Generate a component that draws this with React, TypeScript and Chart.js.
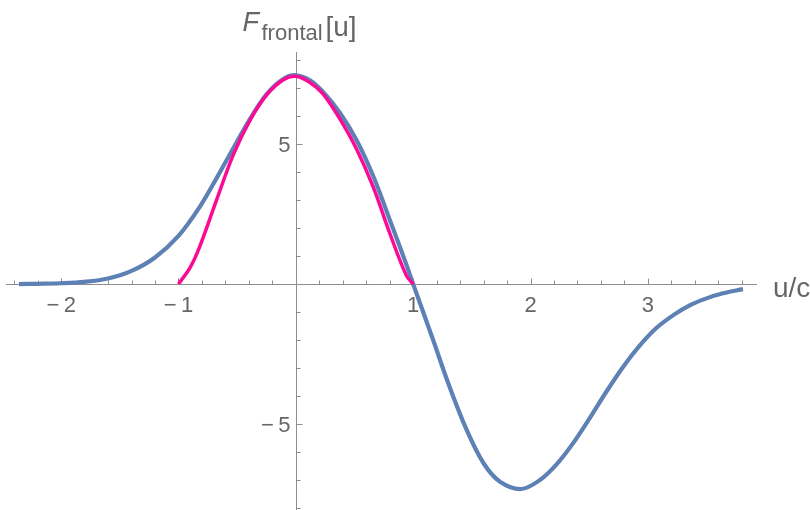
import React, { useEffect, useRef } from "react";
import { Chart, registerables } from "chart.js";

Chart.register(...registerables);

// Blue curve (full F_frontal)
const blueU = [
  -2.36, -2.2, -2.0, -1.8, -1.6, -1.4, -1.2, -1.0, -0.82, -0.68, -0.54, -0.39, -0.25, -0.11, 0,
  0.12, 0.23, 0.375, 0.52, 0.66, 0.8, 0.94, 1.0, 1.17, 1.31, 1.455, 1.6, 1.74, 1.92, 2.08, 2.22,
  2.36, 2.51, 2.65, 2.79, 2.93, 3.07, 3.22, 3.36, 3.5, 3.64, 3.81,
];
const blueF = [
  0.0, 0.01, 0.03, 0.08, 0.2, 0.47, 0.95, 1.72, 2.75, 3.75, 4.8, 5.9, 6.78, 7.32, 7.46,
  7.28, 6.87, 6.12, 5.12, 3.85, 2.3, 0.72, 0.0, -2.0, -3.67, -5.2, -6.4, -7.06, -7.32, -7.0, -6.45,
  -5.7, -4.75, -3.82, -2.95, -2.2, -1.58, -1.1, -0.75, -0.51, -0.33, -0.18,
];

// Pink curve (approximation on [-1, 1])
const pinkU = [-1.0, -0.9, -0.82, -0.676, -0.535, -0.39, -0.25, -0.11, 0, 0.12, 0.23, 0.375, 0.52, 0.66, 0.8, 0.94, 1.0];
const pinkF = [0, 0.6, 1.33, 3.0, 4.6, 5.86, 6.75, 7.29, 7.42, 7.2, 6.8, 5.9, 4.8, 3.46, 1.82, 0.32, 0];

// Axis ranges and ticks
const xMin = -2.47;
const xMax = 3.93;
const yMin = -8.07;
const yMax = 8.29;
const xMajorTicks = [-2, -1, 1, 2, 3];
const xTickLabels = ["\u2212\u20092", "\u2212\u20091", "1", "2", "3"];
const xMinorTicks = [
  -2.4, -2.2, -1.8, -1.6, -1.4, -1.2, -0.8, -0.6, -0.4, -0.2, 0.2, 0.4, 0.6, 0.8, 1.2, 1.4, 1.6, 1.8,
  2.2, 2.4, 2.6, 2.8, 3.2, 3.4, 3.6, 3.8,
];
const yMajorTicks = [-5, 5];
const yTickLabels = ["\u2212\u20095", "5"];
const yMinorTicks = [-8, -7, -6, -4, -3, -2, -1, 1, 2, 3, 4, 6, 7, 8];

const xAxisLabel = "u/c";

const AXIS_COLOR = "#8f8f8f";
const TEXT_COLOR = "#666666";
const FONT = "'Liberation Sans', Arial, sans-serif";

const axesPlugin = {
  id: "mmaAxes",
  beforeDatasetsDraw(chart: any) {
    const { ctx } = chart;
    const xs = chart.scales.x;
    const ys = chart.scales.y;
    const x0 = Math.round(xs.getPixelForValue(0)) + 0.5;
    const y0 = Math.round(ys.getPixelForValue(0)) + 0.5;
    ctx.save();
    ctx.strokeStyle = AXIS_COLOR;
    ctx.lineWidth = 1;
    ctx.beginPath();
    ctx.moveTo(xs.left, y0);
    ctx.lineTo(xs.right, y0);
    ctx.moveTo(x0, ys.top);
    ctx.lineTo(x0, ys.bottom);
    // x ticks (upward)
    for (const t of xMajorTicks) {
      const px = Math.round(xs.getPixelForValue(t)) + 0.5;
      ctx.moveTo(px, y0);
      ctx.lineTo(px, y0 - 6);
    }
    for (const t of xMinorTicks) {
      const px = Math.round(xs.getPixelForValue(t)) + 0.5;
      ctx.moveTo(px, y0);
      ctx.lineTo(px, y0 - 4);
    }
    // y ticks (rightward)
    for (const t of yMajorTicks) {
      const py = Math.round(ys.getPixelForValue(t)) + 0.5;
      ctx.moveTo(x0, py);
      ctx.lineTo(x0 + 6, py);
    }
    for (const t of yMinorTicks) {
      const py = Math.round(ys.getPixelForValue(t)) + 0.5;
      ctx.moveTo(x0, py);
      ctx.lineTo(x0 + 4, py);
    }
    ctx.stroke();

    // tick labels
    ctx.fillStyle = TEXT_COLOR;
    ctx.font = `22px ${FONT}`;
    ctx.textAlign = "center";
    ctx.textBaseline = "alphabetic";
    xMajorTicks.forEach((t, i) => {
      const px = xs.getPixelForValue(t);
      ctx.fillText(xTickLabels[i], px, y0 + 27);
    });
    ctx.textAlign = "right";
    yMajorTicks.forEach((t, i) => {
      const py = ys.getPixelForValue(t);
      ctx.fillText(yTickLabels[i], x0 - 6, py + 8);
    });

    // axis labels
    ctx.textAlign = "left";
    ctx.font = `28px ${FONT}`;
    ctx.fillText(xAxisLabel, xs.right + 16, y0 + 12);

    const tx = x0 - 54;
    ctx.font = `italic 27px ${FONT}`;
    ctx.fillText("F", tx, 31);
    ctx.font = `22px ${FONT}`;
    ctx.fillText("frontal", tx + 19, 40);
    ctx.font = `28px ${FONT}`;
    ctx.fillText("[u]", tx + 83, 36);
    ctx.restore();
  },
};

export default function App() {
  const canvasRef = useRef<HTMLCanvasElement | null>(null);

  useEffect(() => {
    const canvas = canvasRef.current;
    if (!canvas) return;
    const chart = new Chart(canvas, {
      type: "line",
      data: {
        datasets: [
          {
            label: "pink",
            data: pinkU.map((u, i) => ({ x: u, y: pinkF[i] })),
            borderColor: "#fb0a95",
            borderWidth: 3.5,
            pointRadius: 0,
            tension: 0.35,
            fill: false,
            order: 0,
          },
          {
            label: "blue",
            data: blueU.map((u, i) => ({ x: u, y: blueF[i] })),
            borderColor: "#5e81b5",
            borderWidth: 4.2,
            pointRadius: 0,
            tension: 0.35,
            fill: false,
            order: 1,
          },
        ],
      },
      options: {
        animation: false,
        responsive: false,
        devicePixelRatio: 1,
        layout: { padding: { left: 6, right: 53, top: 52, bottom: 0 } },
        plugins: { legend: { display: false }, tooltip: { enabled: false } },
        scales: {
          x: { type: "linear", min: xMin, max: xMax, display: false },
          y: { type: "linear", min: yMin, max: yMax, display: false },
        },
      },
      plugins: [axesPlugin],
    });
    return () => chart.destroy();
  }, []);

  return (
    <div style={{ position: "fixed", left: 0, top: 0, width: 810, height: 510, background: "#fff" }}>
      <canvas ref={canvasRef} width={810} height={510} style={{ display: "block" }} />
    </div>
  );
}
